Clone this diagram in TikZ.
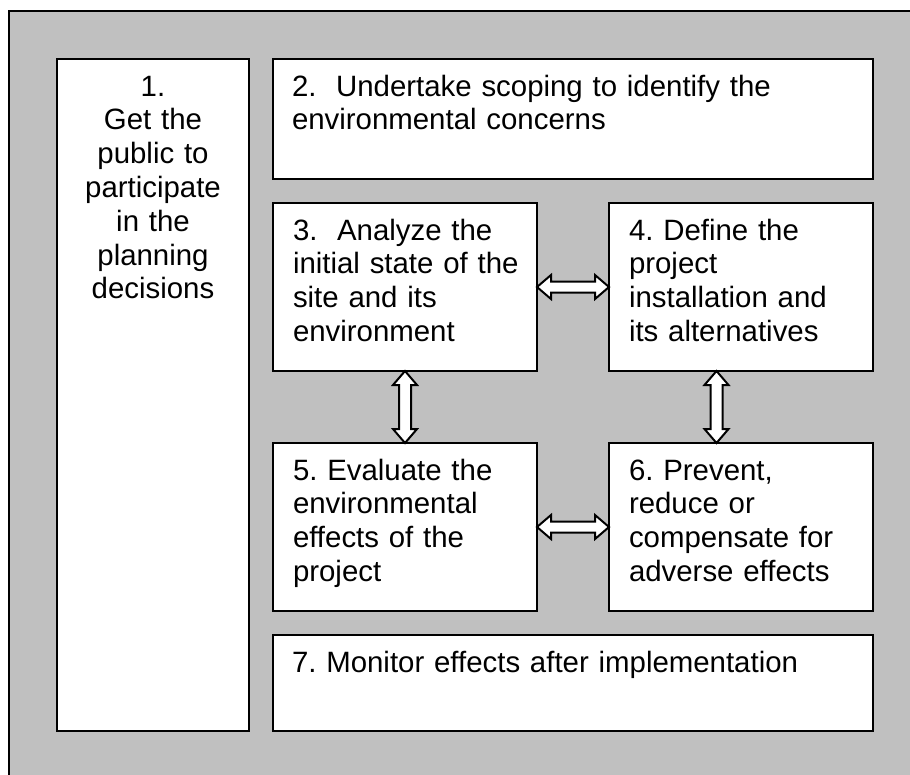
\documentclass[tikz,border=0pt]{standalone}
\usepackage{fontspec}
\setmainfont{Liberation Sans}
\usetikzlibrary{calc}
\definecolor{panelgrey}{RGB}{192,192,192}
\newcommand{\hdarrow}[2]{%
  \draw[dblarrow] let \p1=(#1), \p2=(#2) in
    (\x1,\y1) -- (\x1+14pt,\y1+12pt) -- (\x1+14pt,\y1+5.5pt) -- (\x2-14pt,\y1+5.5pt)
    -- (\x2-14pt,\y1+12pt) -- (\x2,\y1) -- (\x2-14pt,\y1-12pt) -- (\x2-14pt,\y1-5.5pt)
    -- (\x1+14pt,\y1-5.5pt) -- (\x1+14pt,\y1-12pt) -- cycle;}
\newcommand{\vdarrow}[2]{%
  \draw[dblarrow] let \p1=(#1), \p2=(#2) in
    (\x1,\y1) -- (\x1+12pt,\y1-14pt) -- (\x1+6pt,\y1-14pt) -- (\x1+6pt,\y2+14pt)
    -- (\x1+12pt,\y2+14pt) -- (\x1,\y2) -- (\x1-12pt,\y2+14pt) -- (\x1-6pt,\y2+14pt)
    -- (\x1-6pt,\y1-14pt) -- (\x1-12pt,\y1-14pt) -- cycle;}
\begin{document}
\frenchspacing
\begin{tikzpicture}[x=1pt,y=-1pt,
  panel/.style={draw=black, line width=2pt, fill=panelgrey, rectangle, inner sep=0pt, outer sep=0pt, anchor=north west},
  box/.style={draw=black, line width=2pt, fill=white, rectangle, inner sep=0pt, outer sep=0pt, anchor=north west},
  txt/.style={inner sep=0pt, outer sep=0pt, font=\fontsize{29.4}{33.8}\selectfont\frenchspacing, align=left, anchor=base west},
  ctxt/.style={inner sep=0pt, outer sep=0pt, font=\fontsize{29.4}{33.8}\selectfont\frenchspacing, align=center, anchor=base},
  dblarrow/.style={draw=black, line width=2pt, fill=white, line join=miter}]
\useasboundingbox (0,0) rectangle (910,774);
\clip (0,0) rectangle (910,774);
\node[panel, minimum width=960pt, minimum height=820pt] (panel) at (9,11) {};
% boxes
\node[box, minimum width=192pt, minimum height=672pt] (b1) at (57,59) {};
\node[box, minimum width=600pt, minimum height=120pt] (b2) at (273,59) {};
\node[box, minimum width=264pt, minimum height=168pt] (b3) at (273,203) {};
\node[box, minimum width=264pt, minimum height=168pt] (b4) at (609,203) {};
\node[box, minimum width=264pt, minimum height=168pt] (b5) at (273,443) {};
\node[box, minimum width=264pt, minimum height=168pt] (b6) at (609,443) {};
\node[box, minimum width=600pt, minimum height=96pt] (b7) at (273,635) {};
% texts
\node[ctxt, text width=190pt] (t1) at (153,96) {1.\\Get the\\public to\\participate\\in the\\planning\\decisions};
\node[txt, text width=570pt] (t2) at (292,96) {2.~~Undertake scoping to identify the\\environmental concerns};
\node[txt, text width=240pt] (t3) at (293,240) {3.~~Analyze the\\initial state of the\\site and its\\environment};
\node[txt, text width=240pt] (t4) at (629,240) {4. Define the\\project\\installation and\\its alternatives};
\node[txt, text width=240pt] (t5) at (293,480) {5. Evaluate the\\environmental\\effects of the\\project};
\node[txt, text width=240pt] (t6) at (629,480) {6. Prevent,\\reduce or\\compensate for\\adverse effects};
\node[txt, text width=570pt] (t7) at (292,672) {7. Monitor effects after implementation};
% connectors
\coordinate (a46top) at ([xshift=-24.5pt]b4.south);
\coordinate (a46bot) at ([xshift=-24.5pt]b6.north);
\hdarrow{b3.east}{b4.west}
\hdarrow{b5.east}{b6.west}
\vdarrow{b3.south}{b5.north}
\vdarrow{a46top}{a46bot}
\end{tikzpicture}
\end{document}
